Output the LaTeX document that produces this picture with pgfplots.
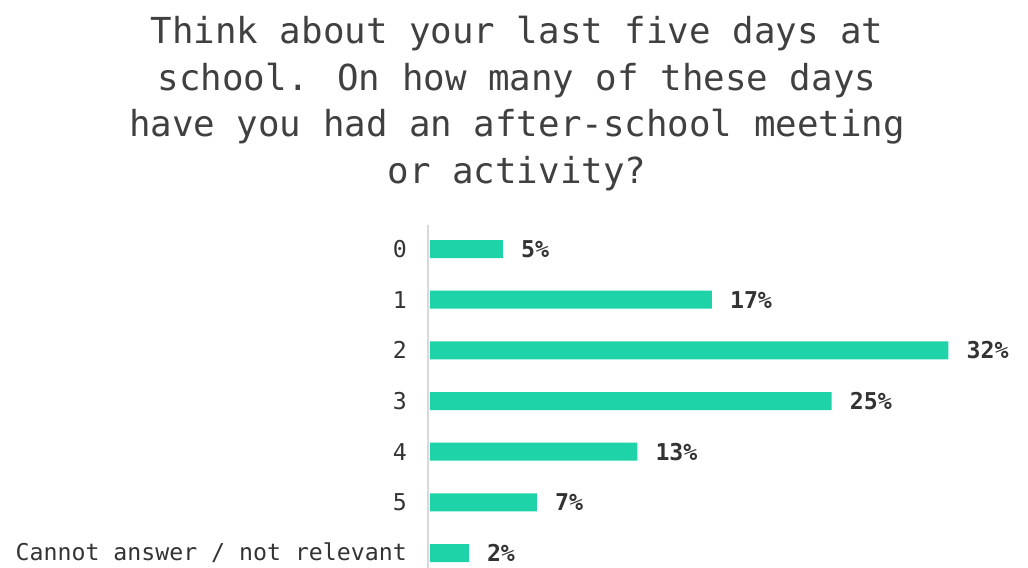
\documentclass[border=0pt]{standalone}
\usepackage{pgfplots}
\pgfplotsset{compat=1.18}
\usepackage{fontspec}
\setmainfont{DejaVu Sans Mono}
\definecolor{barc}{HTML}{1FD3A8}
\definecolor{ttl}{HTML}{404040}
\definecolor{lbl}{HTML}{333333}
\definecolor{axl}{HTML}{D9D9D9}
\begin{document}
\begin{tikzpicture}
\useasboundingbox (0,0) rectangle (1028bp,568bp);
\node[align=center, text=ttl, inner sep=0pt, anchor=north,
      font=\fontsize{35.8bp}{46.5bp}\selectfont] at (517bp,552bp)
  {Think about your last five days at\\school. On how many of these days\\have you had an after-school meeting\\or activity?};
\begin{axis}[
  at={(428bp,0bp)}, anchor=south west,
  scale only axis, width=650bp, height=343bp,
  xmin=-0.12, xmax=40, ymin=-0.474, ymax=6.296, y dir=reverse,
  xbar, bar width=18bp,
  axis x line=none, axis y line=left,
  axis line style={-},
  y axis line style={draw=axl, line width=2bp},
  xtick=\empty,
  ytick={0,1,2,3,4,5,6},
  yticklabels={0,1,2,3,4,5,Cannot answer / not relevant},
  major tick length=0pt,
  yticklabel style={font=\fontsize{23.2bp}{28bp}\selectfont, text=lbl, anchor=east, inner sep=0pt, xshift=-21bp},
  clip=false,
  point meta=explicit symbolic,
  nodes near coords,
  nodes near coords style={anchor=west, inner sep=0pt, xshift=18bp, font=\fontsize{23.2bp}{28bp}\selectfont\bfseries, text=lbl},
]
\addplot[fill=barc, draw=none] coordinates {
  (4.5,0) [5\%]
  (17.4,1) [17\%]
  (32,2) [32\%]
  (24.8,3) [25\%]
  (12.8,4) [13\%]
  (6.6,5) [7\%]
  (2.4,6) [2\%]
};
\end{axis}
\end{tikzpicture}
\end{document}
